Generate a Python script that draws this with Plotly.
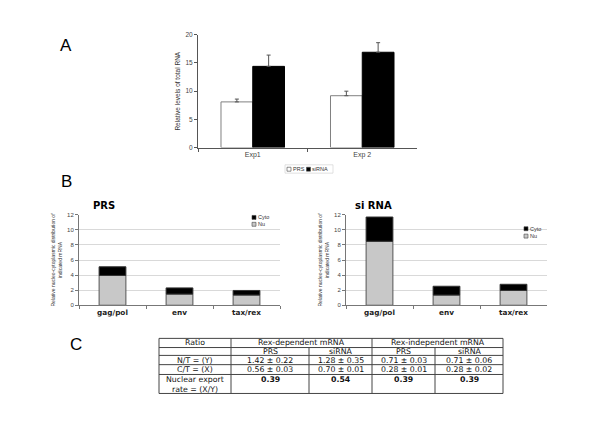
import plotly.graph_objects as go

# ---------------- data ----------------
expA = ["Exp1", "Exp 2"]
prsA = [8.1, 9.2]
prsA_err = [0.5, 0.8]
sirnaA = [14.4, 16.9]
sirnaA_err = [2.0, 1.7]
legendA = ["PRS", "siRNA"]

genes = ["gag/pol", "env", "tax/rex"]
prs_nu = [3.95, 1.48, 1.35]
prs_cyto = [1.15, 0.82, 0.61]
si_nu = [8.48, 1.35, 1.96]
si_cyto = [3.22, 1.17, 0.82]
legendB = ["Cyto", "Nu"]

table_header = ["Ratio", "Rex-dependent mRNA", "Rex-independent mRNA"]
table_sub = ["PRS", "siRNA", "PRS", "siRNA"]
row_labels = ["N/T = (Y)", "C/T = (X)", "Nuclear export<br>rate = (X/Y)"]
nt_vals = ["1.42 ± 0.22", "1.28 ± 0.35", "0.71 ± 0.03", "0.71 ± 0.06"]
ct_vals = ["0.56 ± 0.03", "0.70 ± 0.01", "0.28 ± 0.01", "0.28 ± 0.02"]
export_rate = ["0.39", "0.54", "0.39", "0.39"]

W, H = 600, 424
def px(x):
    return x / W
def py(y):
    return 1 - y / H

fig = go.Figure()

# ---------------- Panel A ----------------
fig.add_trace(go.Bar(x=expA, y=prsA, width=0.29, offset=-0.29, name=legendA[0],
                     marker=dict(color="white", line=dict(color="#808080", width=1)),
                     error_y=dict(type="data", array=prsA_err, symmetric=False,
                                  arrayminus=[0, 0], color="#555", thickness=1, width=2),
                     showlegend=False, xaxis="x", yaxis="y"))
fig.add_trace(go.Bar(x=expA, y=sirnaA, width=0.29, offset=0, name=legendA[1],
                     marker=dict(color="black", line=dict(color="black", width=1)),
                     error_y=dict(type="data", array=sirnaA_err, symmetric=False,
                                  arrayminus=[0, 0], color="#555", thickness=1, width=2),
                     showlegend=False, xaxis="x", yaxis="y"))

# ---------------- Panel B ----------------
for (nu, cyto, xa, ya) in [(prs_nu, prs_cyto, "x2", "y2"), (si_nu, si_cyto, "x3", "y3")]:
    fig.add_trace(go.Bar(x=genes, y=nu, width=0.4, name=legendB[1],
                         marker=dict(color="#c8c8c8", line=dict(color="#555", width=1)),
                         showlegend=False, xaxis=xa, yaxis=ya))
    fig.add_trace(go.Bar(x=genes, y=cyto, base=nu, width=0.4, name=legendB[0],
                         marker=dict(color="black", line=dict(color="#333", width=1)),
                         showlegend=False, xaxis=xa, yaxis=ya))

axfont = dict(family="Liberation Sans, Arial", size=6.5, color="#444")

layout = dict(
    width=W, height=H, margin=dict(l=0, r=0, t=0, b=0),
    paper_bgcolor="white", plot_bgcolor="white",
    barmode="overlay", showlegend=False,
    xaxis=dict(domain=[px(198), px(417)], anchor="y", showline=True, linecolor="#555",
               linewidth=1, ticks="outside", tickson="boundaries", ticklen=3,
               tickcolor="#555", tickfont=dict(family="Liberation Sans, Arial", size=7, color="#444"),
               showgrid=False, fixedrange=True),
    yaxis=dict(domain=[py(146), py(31.3)], anchor="x", range=[0, 20], dtick=5,
               showline=True, linecolor="#555", linewidth=1, ticks="outside", ticklen=3,
               tickcolor="#555", tickfont=axfont, showgrid=False, zeroline=False,
               title=dict(text="Relative levels of total RNA", standoff=4,
                          font=dict(family="Liberation Sans, Arial", size=6.5, color="#333"))),
)

def b_axes(n, x0, x1):
    layout[f"xaxis{n}"] = dict(domain=[px(x0), px(x1)], anchor=f"y{n}", showline=True,
                               linecolor="#777", linewidth=1, ticks="outside",
                               tickson="boundaries", ticklen=3, tickcolor="#777",
                               tickfont=dict(family="DejaVu Sans, Verdana", size=7.3,
                                             color="#222", weight="bold"),
                               showgrid=False, fixedrange=True)
    layout[f"yaxis{n}"] = dict(domain=[py(306.3), py(214.3)], anchor=f"x{n}", range=[0, 12],
                               dtick=2, showline=True, linecolor="#777", linewidth=1,
                               ticks="outside", ticklen=3, tickcolor="#777",
                               tickfont=dict(family="Liberation Sans, Arial", size=6, color="#444"),
                               showgrid=True, gridcolor="#d9d9d9", gridwidth=1, zeroline=False,
                               title=dict(text="Relative nucleo-cytoplasmic distribution of<br>indicated mRNA",
                                          standoff=4,
                                          font=dict(family="Liberation Sans, Arial", size=5,
                                                    color="#333")))

b_axes(2, 79, 280)
b_axes(3, 346, 547)
fig.update_layout(**layout)

ann = []
shapes = []
# panel letters
for letter, x, y in [("A", 66, 42), ("B", 66, 180), ("C", 76, 346)]:
    ann.append(dict(text=letter, x=px(x), y=py(y), xref="paper", yref="paper",
                    showarrow=False, xanchor="center", yanchor="middle",
                    font=dict(family="Liberation Sans, Arial", size=17, color="black")))
# panel B titles
for t, x in [("PRS", 104), ("si RNA", 373)]:
    ann.append(dict(text=f"<b>{t}</b>", x=px(x), y=py(205), xref="paper", yref="paper",
                    showarrow=False, xanchor="center", yanchor="middle",
                    font=dict(family="DejaVu Sans, Verdana", size=10, color="black")))

# ---------------- legends ----------------
legfont = dict(family="Liberation Sans, Arial", size=5.5, color="#333")
def key(x, y, fill, label):
    shapes.append(dict(type="rect", xref="paper", yref="paper",
                       x0=px(x), x1=px(x + 4), y0=py(y + 2), y1=py(y - 2),
                       fillcolor=fill, line=dict(color="#444", width=0.6)))
    ann.append(dict(text=label, x=px(x + 4.5), y=py(y), xref="paper", yref="paper",
                    showarrow=False, xanchor="left", yanchor="middle", font=legfont,
                    borderpad=0))

shapes.append(dict(type="rect", xref="paper", yref="paper", x0=px(285), x1=px(333),
                   y0=py(172), y1=py(163.5), line=dict(color="#ccc", width=0.6),
                   fillcolor="rgba(0,0,0,0)"))
key(287, 168, "white", legendA[0])
key(306.5, 168, "black", legendA[1])
key(252, 217, "black", legendB[0])
key(252, 224, "#c8c8c8", legendB[1])
key(524, 228.5, "black", legendB[0])
key(524, 236, "#c8c8c8", legendB[1])

# ---------------- Panel C table ----------------
cols = [159, 231, 309, 372, 435, 503]
rows = [340, 349.3, 357.3, 366.7, 376.7, 396]
lc = dict(color="#444", width=1)
for y in rows:
    shapes.append(dict(type="line", xref="paper", yref="paper", x0=px(cols[0]), x1=px(cols[-1]),
                       y0=py(y), y1=py(y), line=lc))
for x in [cols[0], cols[1], cols[3], cols[5]]:
    shapes.append(dict(type="line", xref="paper", yref="paper", x0=px(x), x1=px(x),
                       y0=py(rows[0]), y1=py(rows[-1]), line=lc))
for x in [cols[2], cols[4]]:
    shapes.append(dict(type="line", xref="paper", yref="paper", x0=px(x), x1=px(x),
                       y0=py(rows[1]), y1=py(rows[-1]), line=lc))

tfont = dict(family="DejaVu Sans, Verdana", size=7.8, color="#111")
tbold = dict(family="DejaVu Sans, Verdana", size=7.8, color="#111", weight="bold")
def cell(text, xc, yc, font=tfont):
    ann.append(dict(text=text, x=px(xc), y=py(yc), xref="paper", yref="paper",
                    showarrow=False, xanchor="center", yanchor="middle", font=font,
                    borderpad=0))

centers = [(cols[i] + cols[i + 1]) / 2 for i in range(5)]
mid = [(rows[i] + rows[i + 1]) / 2 for i in range(5)]
cell(table_header[0], centers[0], mid[0])
cell(table_header[1], (cols[1] + cols[3]) / 2, mid[0])
cell(table_header[2], (cols[3] + cols[5]) / 2, mid[0])
for j, t in enumerate(table_sub):
    cell(t, centers[j + 1], mid[1])
cell(row_labels[0], centers[0], mid[2])
cell(row_labels[1], centers[0], mid[3])
for k, part in enumerate(row_labels[2].split("<br>")):
    cell(part, centers[0], rows[4] + 5.3 + k * 10.3)
for j in range(4):
    cell(nt_vals[j], centers[j + 1], mid[2])
    cell(ct_vals[j], centers[j + 1], mid[3])
    cell(export_rate[j], centers[j + 1], rows[4] + 5.3, tbold)

fig.update_layout(annotations=ann, shapes=shapes)
fig.write_html("out.html", config={"displayModeBar": False},
               post_script="document.body.style.margin='0px';")
